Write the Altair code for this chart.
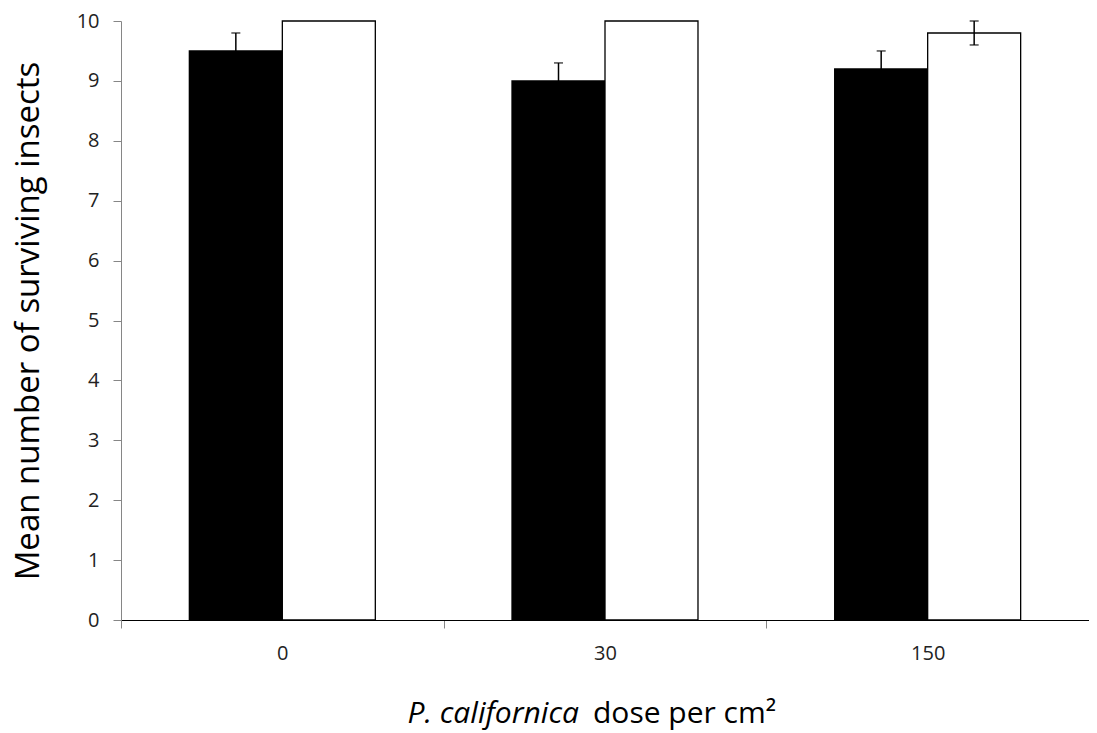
import altair as alt
import pandas as pd

doses = ["0", "30", "150"]
groups = ["Treated", "Control"]
treated_mean = [9.5, 9.0, 9.2]
treated_err = [0.3, 0.3, 0.3]
control_mean = [10.0, 10.0, 9.8]
control_err = [0.0, 0.0, 0.2]

rows = []
for i, d in enumerate(doses):
    rows.append(dict(dose=d, group=groups[0], mean=treated_mean[i], err=treated_err[i]))
    rows.append(dict(dose=d, group=groups[1], mean=control_mean[i], err=control_err[i]))
df = pd.DataFrame(rows)
df["lo"] = df["mean"] - df["err"]
df["hi"] = df["mean"] + df["err"]
err_df = df[df["err"] > 0]

FONT = "Open Sans"
YTITLE = "Mean number of surviving insects"

x = alt.X(
    "dose:N", sort=doses,
    scale=alt.Scale(paddingInner=0, paddingOuter=0),
    axis=alt.Axis(title=None, tickBand="extent", labelAngle=0, domainColor="black",
                  tickColor="#868686", tickSize=8, labelPadding=15, labelFontSize=20,
                  labelFont=FONT, labelColor="#222222"),
)
xo = alt.XOffset("group:N", sort=groups, scale=alt.Scale(paddingInner=0, paddingOuter=0.735))
yscale = alt.Scale(domain=[0, 10], nice=False)


def yenc(field):
    return alt.Y(
        field, scale=yscale, title=YTITLE,
        axis=alt.Axis(values=list(range(11)), grid=False, domainColor="#868686",
                      tickColor="#868686", tickSize=8, labelPadding=14, labelFontSize=20,
                      labelFont=FONT, labelColor="#222222", titleFont=FONT,
                      titleFontSize=33, titleFontWeight="normal", titleColor="#000000",
                      titlePadding=31),
    )


bars = alt.Chart(df).mark_bar(stroke="black", strokeWidth=1.3).encode(
    x=x, xOffset=xo, y=yenc("mean:Q"),
    fill=alt.Fill("group:N", scale=alt.Scale(domain=groups, range=["black", "white"]), legend=None),
)

rules = alt.Chart(err_df).mark_rule(color="black", strokeWidth=1.5).encode(
    x=x, xOffset=xo, y=yenc("lo:Q"), y2="hi:Q"
)
cap_hi = alt.Chart(err_df).mark_tick(color="black", thickness=1.5, size=9).encode(
    x=x, xOffset=xo, y=yenc("hi:Q")
)
cap_lo = alt.Chart(err_df).mark_tick(color="black", thickness=1.5, size=9).encode(
    x=x, xOffset=xo, y=yenc("lo:Q")
)

title_df = pd.DataFrame({"a": ["P. californica"], "b": ["dose per cm\u00b2"]})
t1 = alt.Chart(title_df).mark_text(
    font=FONT, fontSize=30, fontStyle="italic", align="right", baseline="alphabetic", color="black"
).encode(text="a:N", x=alt.value(458), y=alt.value(702))
t2 = alt.Chart(title_df).mark_text(
    font=FONT, fontSize=30, align="left", baseline="alphabetic", color="black"
).encode(text="b:N", x=alt.value(472), y=alt.value(702))

chart = alt.layer(bars, rules, cap_hi, cap_lo, t1, t2).properties(
    width=968, height=599,
    autosize=alt.AutoSizeParams(type="none"),
    padding={"left": 113, "top": 13, "right": 0, "bottom": 112},
).configure_view(stroke=None)

chart.save("out.html", embed_options={"renderer": "svg", "actions": False})
